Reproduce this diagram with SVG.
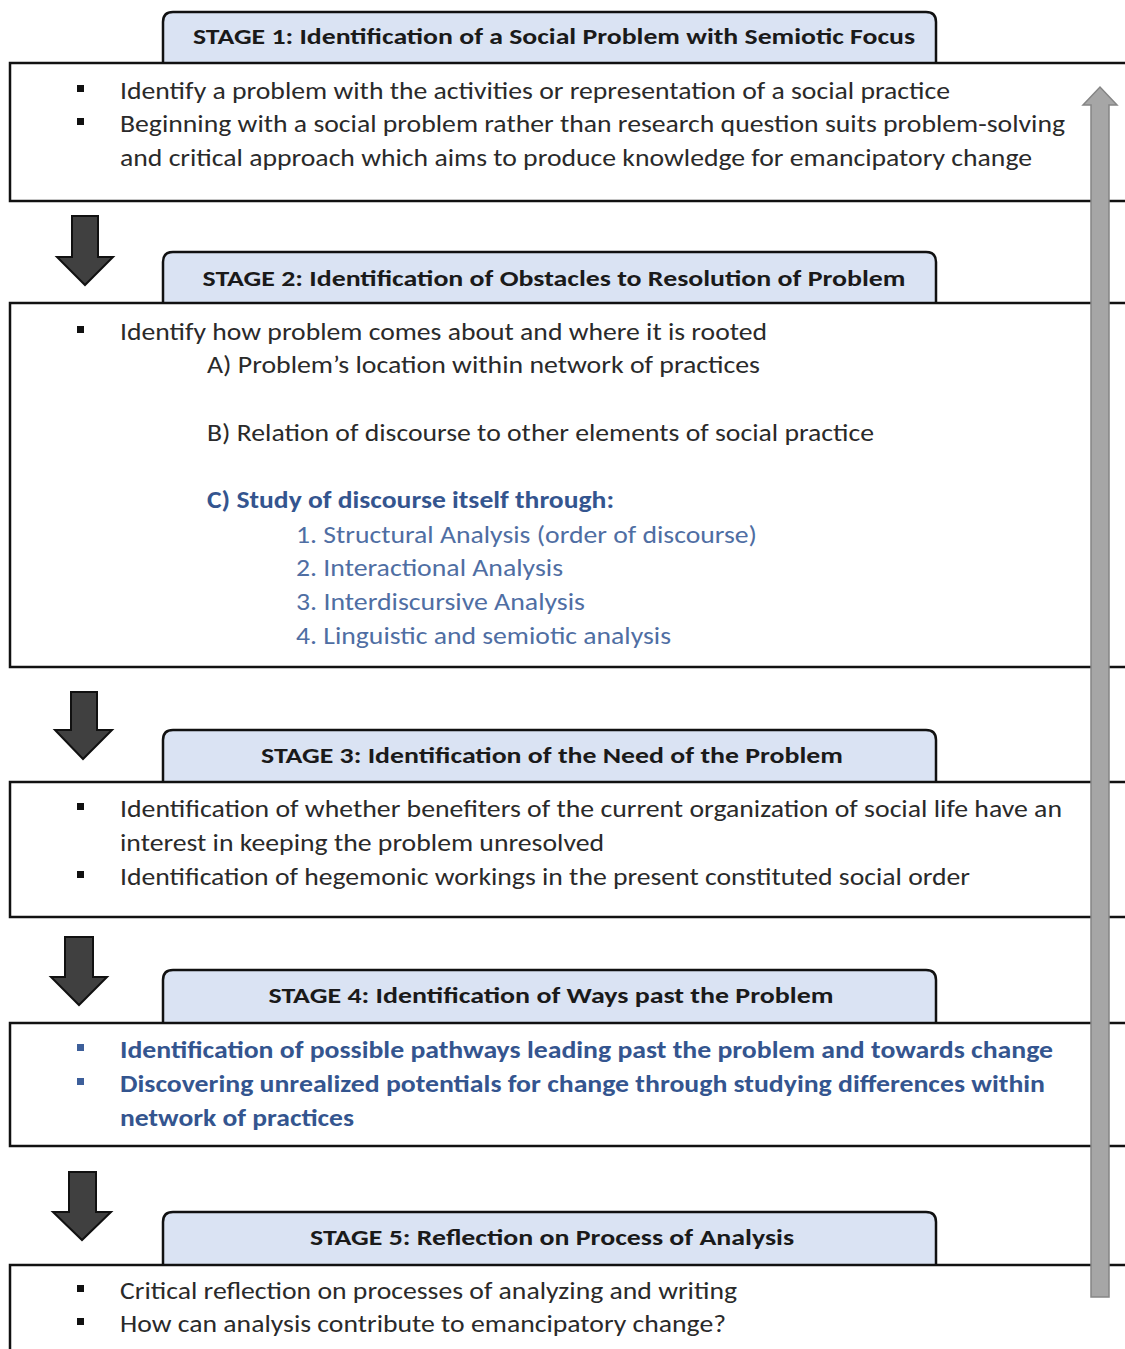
<svg xmlns="http://www.w3.org/2000/svg" width="1125" height="1349" viewBox="0 0 1125 1349">
<defs>
<style>
.tab{fill:#dae3f3;stroke:#111;stroke-width:2.5}
.box{fill:#fff;stroke:#111;stroke-width:2.5}
.hd{font-family:Carlito,Lato,"Open Sans",sans-serif;font-weight:bold;font-size:22px;fill:#1a1a1a;text-anchor:middle}
.tx{font-family:Carlito,Lato,"Open Sans",sans-serif;font-size:24px;fill:#2a2a2a}
.bl{font-family:Carlito,Lato,"Open Sans",sans-serif;font-size:24px;font-weight:bold;fill:#34558f}
.lb{font-family:Carlito,Lato,"Open Sans",sans-serif;font-size:24px;fill:#4f6ea3}
.bu{fill:#111}
.bub{fill:#3d5f9a}
.dn{fill:#404040;stroke:#111;stroke-width:2}
.up{fill:#a6a6a6;stroke:#858585;stroke-width:1.5}
</style>
</defs>
<rect width="1125" height="1349" fill="#fff"/>

<g id="stage1">
<path class="tab" d="M163,63 V22 Q163,12 173,12 H926 Q936,12 936,22 V63"/>
<rect class="box" x="10" y="63" width="1130" height="138"/>
<text class="hd" x="554" y="44" textLength="722" lengthAdjust="spacingAndGlyphs">STAGE 1: Identification of a Social Problem with Semiotic Focus</text>
<rect class="bu" x="77" y="85" width="7" height="7"/>
<rect class="bu" x="77" y="118" width="7" height="7"/>
<text class="tx" x="120" y="99" textLength="830" lengthAdjust="spacingAndGlyphs">Identify a problem with the activities or representation of a social practice</text>
<text class="tx" x="120" y="132" textLength="945" lengthAdjust="spacingAndGlyphs">Beginning with a social problem rather than research question suits problem-solving</text>
<text class="tx" x="120" y="166" textLength="912" lengthAdjust="spacingAndGlyphs">and critical approach which aims to produce knowledge for emancipatory change</text>
</g>

<g id="stage2">
<path class="tab" d="M163,303 V262 Q163,252 173,252 H926 Q936,252 936,262 V303"/>
<rect class="box" x="10" y="303" width="1130" height="364"/>
<text class="hd" x="554" y="286" textLength="703" lengthAdjust="spacingAndGlyphs">STAGE 2: Identification of Obstacles to Resolution of Problem</text>
<rect class="bu" x="77" y="326" width="7" height="7"/>
<text class="tx" x="120" y="340" textLength="647" lengthAdjust="spacingAndGlyphs">Identify how problem comes about and where it is rooted</text>
<text class="tx" x="207" y="373" textLength="553" lengthAdjust="spacingAndGlyphs">A) Problem’s location within network of practices</text>
<text class="tx" x="207" y="441" textLength="667" lengthAdjust="spacingAndGlyphs">B) Relation of discourse to other elements of social practice</text>
<text class="bl" x="207" y="508" textLength="407" lengthAdjust="spacingAndGlyphs">C) Study of discourse itself through:</text>
<text class="lb" x="296" y="543" textLength="461" lengthAdjust="spacingAndGlyphs">1. Structural Analysis (order of discourse)</text>
<text class="lb" x="296" y="576" textLength="267" lengthAdjust="spacingAndGlyphs">2. Interactional Analysis</text>
<text class="lb" x="296" y="610" textLength="289" lengthAdjust="spacingAndGlyphs">3. Interdiscursive Analysis</text>
<text class="lb" x="296" y="644" textLength="375" lengthAdjust="spacingAndGlyphs">4. Linguistic and semiotic analysis</text>
</g>

<g id="stage3">
<path class="tab" d="M163,782 V740 Q163,730 173,730 H926 Q936,730 936,740 V782"/>
<rect class="box" x="10" y="782" width="1130" height="135"/>
<text class="hd" x="552" y="763" textLength="582" lengthAdjust="spacingAndGlyphs">STAGE 3: Identification of the Need of the Problem</text>
<rect class="bu" x="77" y="803" width="7" height="7"/>
<rect class="bu" x="77" y="871" width="7" height="7"/>
<text class="tx" x="120" y="817" textLength="942" lengthAdjust="spacingAndGlyphs">Identification of whether benefiters of the current organization of social life have an</text>
<text class="tx" x="120" y="851" textLength="484" lengthAdjust="spacingAndGlyphs">interest in keeping the problem unresolved</text>
<text class="tx" x="120" y="885" textLength="850" lengthAdjust="spacingAndGlyphs">Identification of hegemonic workings in the present constituted social order</text>
</g>

<g id="stage4">
<path class="tab" d="M163,1023 V980 Q163,970 173,970 H926 Q936,970 936,980 V1023"/>
<rect class="box" x="10" y="1023" width="1130" height="123"/>
<text class="hd" x="551" y="1003" textLength="565" lengthAdjust="spacingAndGlyphs">STAGE 4: Identification of Ways past the Problem</text>
<rect class="bub" x="77" y="1044" width="7" height="7"/>
<rect class="bub" x="77" y="1078" width="7" height="7"/>
<text class="bl" x="120" y="1058" textLength="933" lengthAdjust="spacingAndGlyphs">Identification of possible pathways leading past the problem and towards change</text>
<text class="bl" x="120" y="1092" textLength="925" lengthAdjust="spacingAndGlyphs">Discovering unrealized potentials for change through studying differences within</text>
<text class="bl" x="120" y="1126" textLength="234" lengthAdjust="spacingAndGlyphs">network of practices</text>
</g>

<g id="stage5">
<path class="tab" d="M163,1265 V1222 Q163,1212 173,1212 H926 Q936,1212 936,1222 V1265"/>
<rect class="box" x="10" y="1265" width="1130" height="100"/>
<text class="hd" x="552" y="1245" textLength="484" lengthAdjust="spacingAndGlyphs">STAGE 5: Reflection on Process of Analysis</text>
<rect class="bu" x="77" y="1285" width="7" height="7"/>
<rect class="bu" x="77" y="1318" width="7" height="7"/>
<text class="tx" x="120" y="1299" textLength="617" lengthAdjust="spacingAndGlyphs">Critical reflection on processes of analyzing and writing</text>
<text class="tx" x="120" y="1332" textLength="606" lengthAdjust="spacingAndGlyphs">How can analysis contribute to emancipatory change?</text>
</g>

<g id="connectors">
<polygon class="dn" points="72,216 98,216 98,257 113,257 85,285 57,257 72,257"/>
<polygon class="dn" points="71,692 97,692 97,730 112,730 83,759 55,730 71,730"/>
<polygon class="dn" points="65,937 93,937 93,977 107,977 79,1005 51,977 65,977"/>
<polygon class="dn" points="69,1172 96,1172 96,1212 111,1212 82,1240 53,1212 69,1212"/>
<polygon class="up" points="1091,1297 1091,105 1083,105 1100,87 1117,105 1109,105 1109,1297"/>
</g>
</svg>
